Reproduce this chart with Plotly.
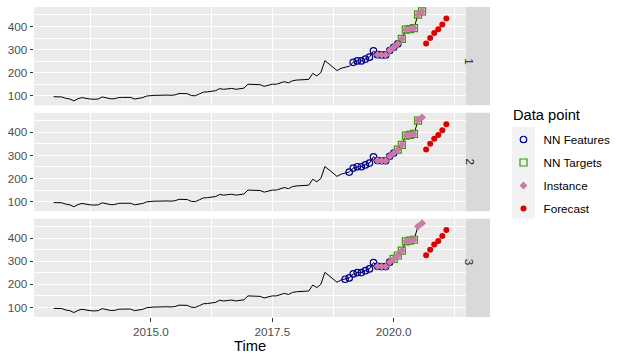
import plotly.graph_objects as go
from plotly.subplots import make_subplots

# ---------------- data ----------------
start_year = 2013
freq = 12
series = [96, 94, 95, 89, 86, 78, 87, 92, 88, 86, 85, 86,
          95, 91, 87, 87, 92, 93, 93, 93, 86, 88, 92, 99,
          102, 102, 102, 104, 103, 102, 104, 110, 110, 109, 101, 100,
          108, 116, 117, 119, 122, 131, 128, 130, 132, 128, 130, 133,
          150, 150, 150, 148, 141, 147, 150, 150, 154, 161, 156, 165,
          168, 168, 170, 171, 197, 186, 200, 252, 238, 222, 209, 219,
          222, 228, 245, 251, 251, 259, 267, 294, 278, 277, 277, 296,
          310, 325, 346, 386, 389, 393, 451, 465]
forecast = [326, 350, 372, 388, 409, 435]
neighbor_feature_start = [74, 73, 72]   # index of first NN-feature month, per panel
n_lags = 12
horizon = 6
panel_labels = ["1", "2", "3"]
x_tickvals = [2015.0, 2017.5, 2020.0]
x_ticktext = ["2015.0", "2017.5", "2020.0"]
x_minor = [2012.5, 2013.75, 2016.25, 2018.75, 2021.25]
y_tickvals = [100, 200, 300, 400]
y_minor = [150, 250, 350, 450]
legend_names = ["NN Features", "NN Targets", "Instance", "Forecast"]

# ---------------- derived ----------------
n = len(series)
times = [start_year + i / freq for i in range(n)]
fc_times = [start_year + (n + i) / freq for i in range(horizon)]
inst_idx = list(range(n - n_lags, n))

FONT = "Liberation Sans, Arial, sans-serif"
C_FEAT = "#00008B"
C_TARG = "#339900"
C_INST = "#CC79A7"
C_FC = "#DD0000"

W, H = 627, 362
ml, mr, mt, mb = 34, 161, 7, 45
pw = W - ml - mr
ph = H - mt - mb
gap = 7.5
panel_h = (ph - 2 * gap) / 3

fig = make_subplots(rows=3, cols=1, shared_xaxes=True, vertical_spacing=gap / ph)

allv = series + forecast
span = max(allv) - min(allv)
yr = [min(allv) - 0.05 * span, max(allv) + 0.05 * span]
tspan = fc_times[-1] - times[0]
xr = [times[0] - 0.05 * tspan, fc_times[-1] + 0.05 * tspan]

for p in range(3):
    row = p + 1
    show = p == 0
    fs = neighbor_feature_start[p]
    feat_idx = list(range(fs, fs + n_lags))
    targ_idx = list(range(fs + n_lags, fs + n_lags + horizon))
    fig.add_trace(go.Scatter(x=times, y=series, mode="lines",
                             line=dict(color="black", width=1),
                             showlegend=False, hoverinfo="skip"), row=row, col=1)
    fig.add_trace(go.Scatter(x=[times[i] for i in feat_idx], y=[series[i] for i in feat_idx],
                             mode="markers", name=legend_names[0], legendgroup="a",
                             marker=dict(symbol="circle-open", size=6.5, color=C_FEAT,
                                         line=dict(width=1.2, color=C_FEAT)),
                             showlegend=show), row=row, col=1)
    fig.add_trace(go.Scatter(x=[times[i] for i in targ_idx], y=[series[i] for i in targ_idx],
                             mode="markers", name=legend_names[1], legendgroup="b",
                             marker=dict(symbol="square-open", size=7, color=C_TARG,
                                         line=dict(width=1.2, color=C_TARG)),
                             showlegend=show), row=row, col=1)
    fig.add_trace(go.Scatter(x=[times[i] for i in inst_idx], y=[series[i] for i in inst_idx],
                             mode="markers", name=legend_names[2], legendgroup="c",
                             marker=dict(symbol="diamond", size=6, color=C_INST, line=dict(width=0)),
                             showlegend=show), row=row, col=1)
    fig.add_trace(go.Scatter(x=fc_times, y=forecast,
                             mode="markers", name=legend_names[3], legendgroup="d",
                             marker=dict(symbol="circle", size=6, color=C_FC, line=dict(width=0)),
                             showlegend=show), row=row, col=1)

# domains
doms = []
for p in range(3):
    top = ph - p * (panel_h + gap)
    bot = top - panel_h
    doms.append([bot / ph, top / ph])

for p in range(3):
    ax = "" if p == 0 else str(p + 1)
    fig.layout["yaxis" + ax].update(
        domain=doms[p], range=yr, tickvals=y_tickvals, automargin=False,
        showgrid=True, gridcolor="white", gridwidth=1.1, zeroline=False,
        ticks="outside", ticklen=3.5, tickcolor="#333333", tickwidth=1,
        tickfont=dict(family=FONT, size=11.7, color="#4D4D4D"),
        minor=dict(tickvals=y_minor, showgrid=True, gridcolor="white", gridwidth=0.55),
        showline=False)
    fig.layout["xaxis" + ax].update(
        range=xr, tickvals=x_tickvals, ticktext=x_ticktext, automargin=False,
        showgrid=True, gridcolor="white", gridwidth=1.1, zeroline=False,
        ticks="outside" if p == 2 else "", ticklen=3.5, tickcolor="#333333", tickwidth=1,
        showticklabels=(p == 2),
        tickfont=dict(family=FONT, size=11.7, color="#4D4D4D"),
        minor=dict(tickvals=x_minor, showgrid=True, gridcolor="white", gridwidth=0.55),
        showline=False)

fig.layout.xaxis3.title = dict(text="Time", font=dict(family=FONT, size=14.7, color="black"), standoff=2)

shapes = []
annotations = []
strip_x0 = 1.0
strip_x1 = 1 + 24 / pw
for p in range(3):
    shapes.append(dict(type="rect", xref="paper", yref="paper", x0=strip_x0, x1=strip_x1,
                       y0=doms[p][0], y1=doms[p][1], fillcolor="#D9D9D9", line=dict(width=0),
                       layer="below"))
    annotations.append(dict(text=panel_labels[p], xref="paper", yref="paper",
                            x=(strip_x0 + strip_x1) / 2, y=(doms[p][0] + doms[p][1]) / 2,
                            showarrow=False, textangle=90,
                            font=dict(family=FONT, size=11.7, color="#1A1A1A")))


def px_x(px):
    return (px - ml) / pw


def px_y(py):
    return 1 - (py - mt) / ph


# legend key background
shapes.append(dict(type="rect", xref="paper", yref="paper", x0=px_x(512), x1=px_x(535),
                   y0=px_y(218.5), y1=px_y(127), fillcolor="#F2F2F2", line=dict(width=0),
                   layer="below"))
annotations.append(dict(text="Data point", xref="paper", yref="paper", x=px_x(511), y=px_y(115),
                        xanchor="left", yanchor="middle", showarrow=False,
                        font=dict(family=FONT, size=14.7, color="black")))

fig.update_layout(
    width=W, height=H,
    margin=dict(l=ml, r=mr, t=mt, b=mb, autoexpand=False),
    plot_bgcolor="#EBEBEB", paper_bgcolor="white",
    font=dict(family=FONT),
    shapes=shapes, annotations=annotations,
    legend=dict(x=px_x(503.5), y=px_y(125), xanchor="left", yanchor="top",
                bgcolor="rgba(0,0,0,0)", tracegroupgap=4,
                font=dict(family=FONT, size=11.7, color="black")),
    showlegend=True,
)

fig.write_html("out.html", config={"displayModeBar": False},
               post_script="document.body.style.margin='0';")
